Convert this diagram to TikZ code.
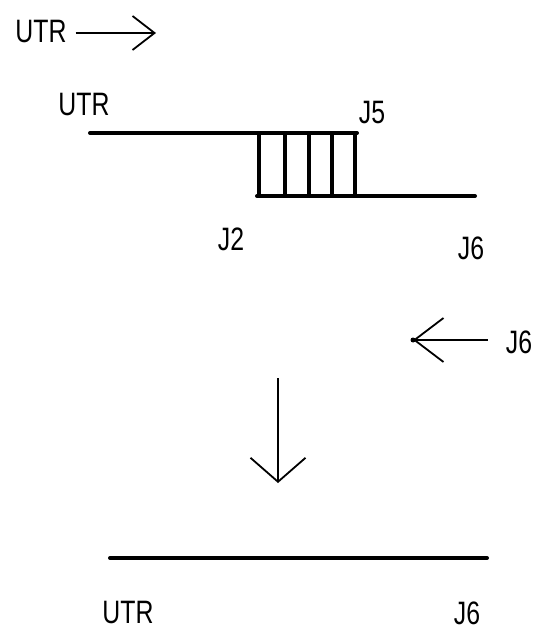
\documentclass[tikz,border=0pt]{standalone}
\usepackage{fontspec}
\setmainfont{Liberation Sans}
\usetikzlibrary{arrows.meta, positioning}
\newcommand{\narrowtxt}[1]{\scalebox{0.92}[1.2]{#1}}

\begin{document}
\begin{tikzpicture}[
      x=1pt, y=-1pt,
      lbl/.style={inner sep=0pt, font=\fontsize{27}{30}\selectfont},
      strand/.style={line width=4pt, line cap=round},
      rung/.style={line width=3.6pt},
      pointer/.style 2 args={line width=1.6pt,
        -{Straight Barb[length=#1pt, width=#2pt, line width=1.8pt]}}
    ]
      \useasboundingbox (0,0) rectangle (533,631);
      % --- Top: direction of the UTR strand ---
      \node[lbl] (utrin) at (41,32) {\narrowtxt{UTR}};
      \coordinate (utrtip) at (156,33);
      \draw[pointer={22}{34}] (utrin.east |- utrtip) ++(9pt,0) -- (utrtip);
      % --- Duplex: upper strand, lower strand and the base pairs ---
      \node[lbl] (utra) at (84,105) {\narrowtxt{UTR}};
      \node[lbl] (jfive) at (372,113) {\narrowtxt{J5}};
      \node[lbl] (jtwo) at (231,239) {\narrowtxt{J2}};
      \node[lbl] (jsixa) at (471,248) {\narrowtxt{J6}};
      \coordinate (topl) at (90,133);
      \coordinate (topr) at (357,133);
      \coordinate (botl) at (257,196);
      \coordinate (botr) at (475,196);
      \draw[strand] (topl) -- (topr);
      \draw[strand] (botl) -- (botr);
      \foreach \x in {259,285,309,332,355}
        \draw[rung] (\x,133) -- (\x,196);
      % --- J6 coming in from the right ---
      \node[lbl] (jsixin) at (519,342) {\narrowtxt{J6}};
      \coordinate (jsixtip) at (413,340);
      \draw[pointer={29}{44}] (jsixin.west |- jsixtip) ++(-18pt,0) -- (jsixtip);
      \fill (jsixtip) circle (2.5pt);
      % --- Result ---
      \coordinate (downtop) at (278,378);
      \coordinate (downtip) at (278,483);
      \draw[pointer={24}{55}] (downtop) -- (downtip);
      \coordinate (endl) at (110,558);
      \coordinate (endr) at (487,558);
      \draw[strand] (endl) -- (endr);
      \node[lbl] (utrb) at (128,613) {\narrowtxt{UTR}};
      \node[lbl] (jsixb) at (467,613) {\narrowtxt{J6}};
    \end{tikzpicture}
\end{document}
